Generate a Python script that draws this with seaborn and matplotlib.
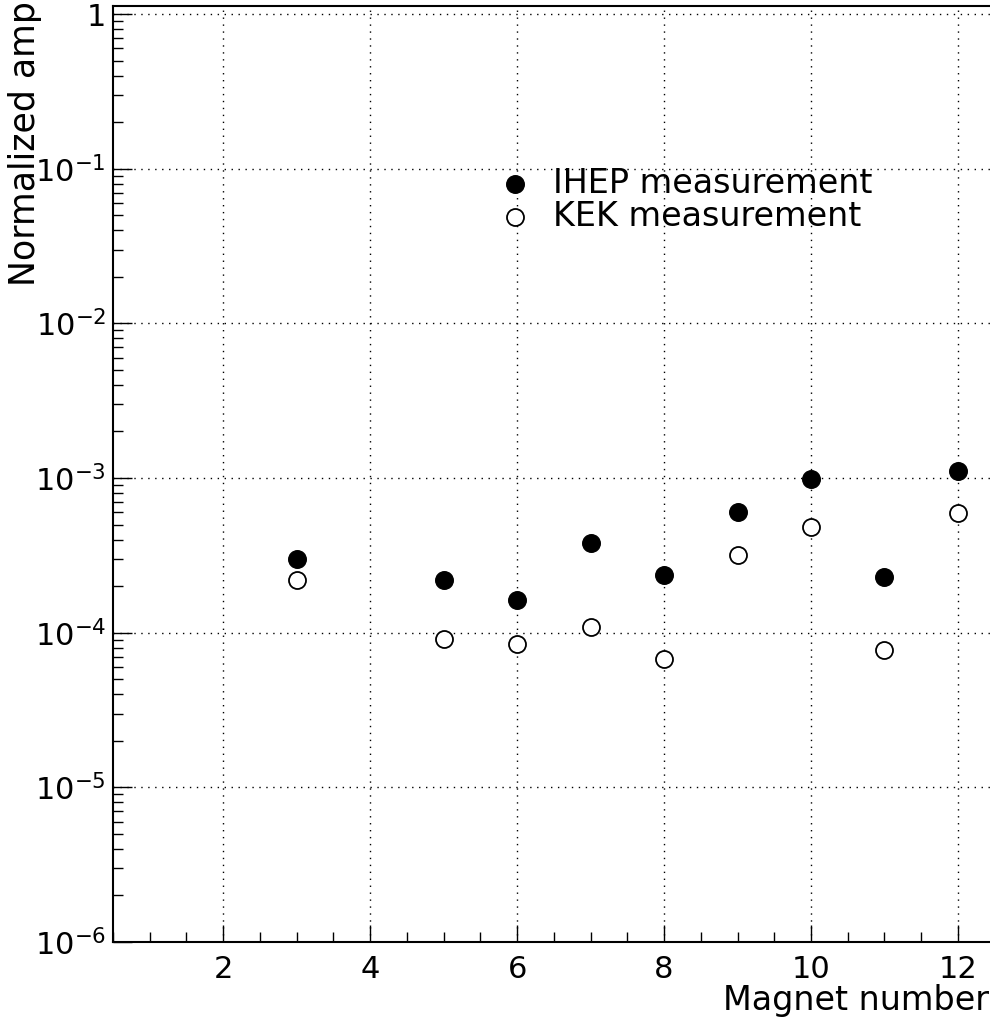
import numpy as np
import pandas as pd
import matplotlib
matplotlib.use("Agg")
import matplotlib.pyplot as plt
from matplotlib.ticker import FixedLocator, MultipleLocator, FixedFormatter, LogLocator, NullFormatter
import seaborn as sns

# ---- data ----
magnets = [3, 5, 6, 7, 8, 9, 10, 11, 12]
ihep = [3.0e-4, 2.18e-4, 1.62e-4, 3.8e-4, 2.36e-4, 6.0e-4, 9.9e-4, 2.29e-4, 1.11e-3]
kek = [2.18e-4, 9.1e-5, 8.5e-5, 1.09e-4, 6.8e-5, 3.2e-4, 4.8e-4, 7.7e-5, 5.9e-4]
series_names = ["IHEP measurement", "KEK measurement"]
x_ticks = [2, 4, 6, 8, 10, 12]
y_ticks = [1e-6, 1e-5, 1e-4, 1e-3, 1e-2, 1e-1, 1]
y_tick_labels = [r"$\mathregular{10^{-6}}$", r"$\mathregular{10^{-5}}$", r"$\mathregular{10^{-4}}$",
                 r"$\mathregular{10^{-3}}$", r"$\mathregular{10^{-2}}$", r"$\mathregular{10^{-1}}$", "1"]
x_label = "Magnet number"
y_label = "Normalized amp"

sns.set_theme(style="white")
plt.rcParams["font.family"] = ["DejaVu Sans"]
plt.rcParams["mathtext.fontset"] = "dejavusans"
plt.rcParams["text.color"] = "black"
plt.rcParams["axes.labelcolor"] = "black"
plt.rcParams["xtick.color"] = "black"
plt.rcParams["ytick.color"] = "black"

df = pd.DataFrame({
    "magnet": magnets * 2,
    "amp": ihep + kek,
    "series": [series_names[0]] * len(magnets) + [series_names[1]] * len(magnets),
})

fig = plt.figure(figsize=(9.9, 10.21), dpi=100)
ax = fig.add_axes([113 / 990, 79 / 1021, 881.7 / 990, 936 / 1021])

sns.scatterplot(data=df[df.series == series_names[0]], x="magnet", y="amp", ax=ax,
                color="black", edgecolor="black", s=160, marker="o", linewidth=1.0,
                label=series_names[0], zorder=3)
sns.scatterplot(data=df[df.series == series_names[1]], x="magnet", y="amp", ax=ax,
                facecolor="white", edgecolor="black", s=150, marker="o", linewidth=1.3,
                label=series_names[1], zorder=3)

ax.set_yscale("log")
ax.set_xlim(0.5, 12.5)
ax.set_ylim(1e-6, 10 ** 0.052)

ax.xaxis.set_major_locator(FixedLocator(x_ticks))
ax.xaxis.set_minor_locator(MultipleLocator(0.5))
ax.yaxis.set_major_locator(FixedLocator(y_ticks))
ax.yaxis.set_major_formatter(FixedFormatter(y_tick_labels))
ax.yaxis.set_minor_locator(LogLocator(base=10, subs=np.arange(2, 10), numticks=20))
ax.yaxis.set_minor_formatter(NullFormatter())

ax.tick_params(axis="both", which="both", direction="in", colors="black", labelsize=22,
               bottom=True, left=True, top=False, right=False)
ax.tick_params(axis="x", which="major", length=12, width=1.0, pad=9)
ax.tick_params(axis="x", which="minor", length=7, width=1.0)
ax.tick_params(axis="y", which="major", length=14, width=1.0, pad=5)
ax.tick_params(axis="y", which="minor", length=7, width=1.0)

ax.grid(True, which="major", color="black", linestyle=(0, (1, 4)), linewidth=1.0)
for side in ["left", "bottom", "top", "right"]:
    ax.spines[side].set_color("black")
    ax.spines[side].set_linewidth(1.5)

ax.set_xlabel("")
ax.set_ylabel("")
fig.text(0.999, 1 - 1000 / 1021, x_label, ha="right", va="center", fontsize=24, color="black")
fig.text(25 / 990, 0.999, y_label, ha="center", va="top", rotation=90, fontsize=25, color="black")

leg = ax.legend(loc="upper left", bbox_to_anchor=(0.418, 1 - (167 - 6) / 936),
                frameon=False, fontsize=24, handletextpad=0.15, labelspacing=0.0,
                markerscale=1.0, borderpad=0.0, borderaxespad=0.0)
for t in leg.get_texts():
    t.set_color("black")

fig.savefig("out.png", dpi=100, facecolor="white")
